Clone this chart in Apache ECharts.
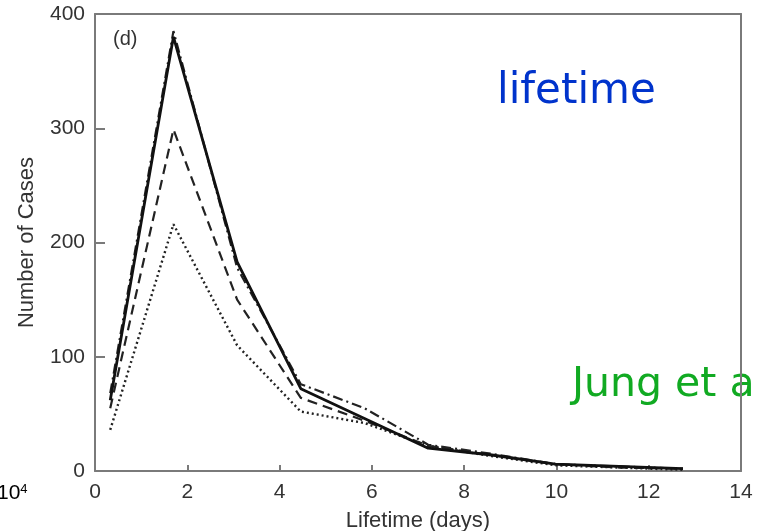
<!DOCTYPE html>
<html>
<head>
<meta charset="utf-8">
<script src="https://cdn.jsdelivr.net/npm/echarts@6/dist/echarts.min.js"></script>
<style>html,body{margin:0;padding:0;background:#fff;}#c{width:758px;height:531px;}</style>
</head>
<body>
<div id="c"></div>
<script>
var lifetimeDays = [0.33, 1.7, 3.08, 4.46, 5.84, 7.22, 8.6, 9.98, 11.36, 12.74];
var solidCases   = [62, 380, 183, 72, 46, 20, 14, 6, 4, 2];
var dashDotCases = [68, 385, 178, 76, 55, 23, 15, 6, 4, 2];
var dashedCases  = [55, 299, 150, 64, 44, 22, 14, 6, 3, 2];
var dottedCases  = [36, 216, 110, 52, 42, 22, 13, 5, 3, 1];
var xTicks = [0, 2, 4, 6, 8, 10, 12, 14];
var yTicks = [0, 100, 200, 300, 400];

function pairs(v){ return lifetimeDays.map(function(x,i){ return [x, v[i]]; }); }

var chart = echarts.init(document.getElementById('c'), null, {renderer:'canvas'});
var axisCol = '#7a7a7a';
var labCol = '#333';
var font = 'Liberation Sans';
chart.setOption({
  animation:false,
  backgroundColor:'#fff',
  grid:{left:95, right:17, top:14, bottom:60, containLabel:false, outerBoundsMode:'none'},
  xAxis:[{
    type:'value', min:0, max:14, interval:2,
    name:'Lifetime (days)', nameLocation:'middle', nameGap:39,
    nameTextStyle:{fontFamily:font, fontSize:22, color:labCol},
    axisLine:{show:true, onZero:false, lineStyle:{color:axisCol, width:2}},
    axisTick:{show:true, inside:true, length:6, lineStyle:{color:axisCol, width:2}},
    axisLabel:{fontFamily:font, fontSize:21, color:labCol, margin:11,
      formatter:function(v){ return xTicks.indexOf(v)>=0 ? String(v) : ''; }},
    splitLine:{show:false}
  },{
    type:'value', min:0, max:14, position:'top',
    axisLine:{show:true, onZero:false, lineStyle:{color:axisCol, width:2}},
    axisTick:{show:false}, axisLabel:{show:false}, splitLine:{show:false}
  }],
  yAxis:[{
    type:'value', min:0, max:400, interval:100,
    name:'Number of Cases', nameLocation:'middle', nameGap:57, nameRotate:90,
    nameTextStyle:{fontFamily:font, fontSize:22, color:labCol},
    axisLine:{show:true, onZero:false, lineStyle:{color:axisCol, width:2}},
    axisTick:{show:true, inside:true, length:10, lineStyle:{color:axisCol, width:2}},
    axisLabel:{fontFamily:font, fontSize:21, color:labCol, margin:10,
      formatter:function(v){ return yTicks.indexOf(v)>=0 ? String(v) : ''; }},
    splitLine:{show:false}
  },{
    type:'value', min:0, max:400, position:'right',
    axisLine:{show:true, onZero:false, lineStyle:{color:axisCol, width:2}},
    axisTick:{show:false}, axisLabel:{show:false}, splitLine:{show:false}
  }],
  series:[
    {type:'line', data:pairs(dottedCases), symbol:'none', z:3,
      lineStyle:{color:'#222', width:2.4, type:[2,3]}},
    {type:'line', data:pairs(dashedCases), symbol:'none', z:3,
      lineStyle:{color:'#222', width:2.2, type:[10,6]}},
    {type:'line', data:pairs(dashDotCases), symbol:'none', z:3,
      lineStyle:{color:'#222', width:2.2, type:[10,4,2,4]}},
    {type:'line', data:pairs(solidCases), symbol:'none', z:4,
      lineStyle:{color:'#111', width:2.8}}
  ],
  graphic:[
    {type:'text', left:113, top:29, z:5, style:{text:'(d)', font:'20px "Liberation Sans"', fill:labCol}},
    {type:'text', left:-3, top:483, z:5, style:{text:'{a|10}{b|4}',
      rich:{a:{fontFamily:font, fontSize:21, color:labCol}, b:{fontFamily:font, fontSize:13, color:labCol, verticalAlign:'top', padding:[0,0,8,0]}}}},
    {type:'text', left:497, top:71, z:-1, style:{text:'lifetime', font:'42px "DejaVu Sans"', fill:'#0033cc'}},
    {type:'text', left:572, top:365, z:-1, style:{text:'Jung et al.', font:'41px "DejaVu Sans"', fill:'#11aa22'}}
  ]
});
</script>
</body>
</html>
